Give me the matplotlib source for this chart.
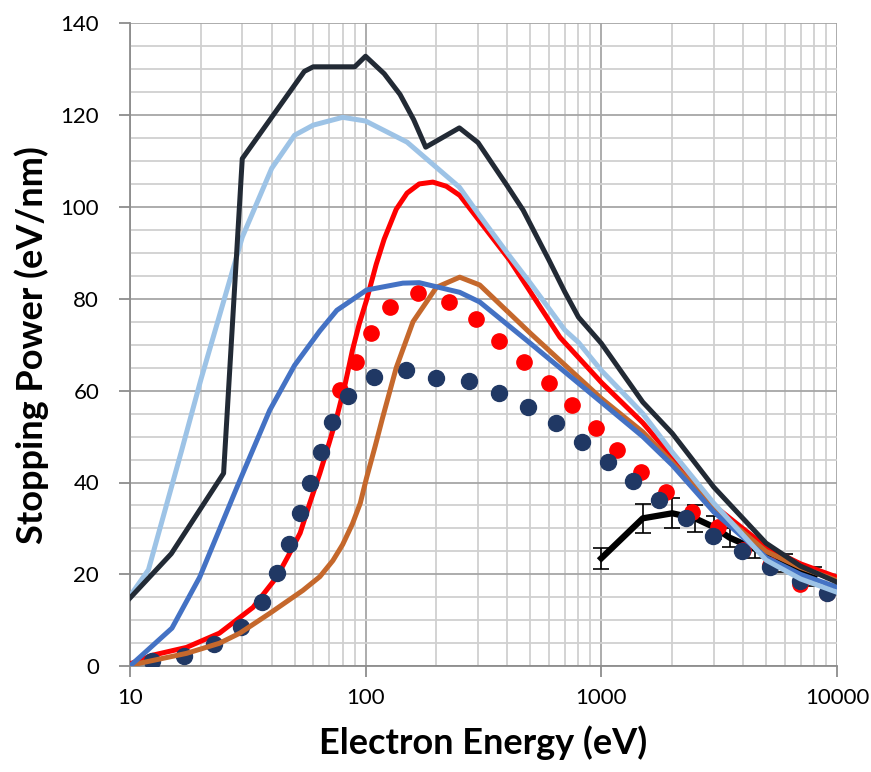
import numpy as np
import matplotlib
matplotlib.use("Agg")
import matplotlib.pyplot as plt
from matplotlib.ticker import FixedLocator, NullFormatter, FuncFormatter

# dark line
dark_x = [10, 15, 25, 30, 55, 60, 90, 100, 120, 140, 160, 180, 250, 300, 400, 466, 600, 700, 800,
          1000, 1500, 2000, 3000, 5000, 7000, 10000]
dark_y = [14.8, 24.5, 42, 110.5, 129.5, 130.5, 130.5, 132.8, 129, 124.5, 119, 113, 117.2, 114, 104.5,
          99.3, 88.4, 81.5, 76, 70.3, 57.5, 50.7, 39, 26.8, 21.8, 18.3]

# light blue line
lblue_x = [10, 12, 16.6, 20, 30, 40, 50, 60, 80, 100, 150, 250, 300, 400, 500, 700, 800, 1000,
           1500, 2000, 3000, 5000, 7000, 10000]
lblue_y = [15.2, 21, 47, 62.3, 93.4, 108.4, 115.6, 117.8, 119.5, 118.7, 114.1, 104.3, 98.6, 89.9,
           83.4, 73.2, 70.5, 64.4, 55, 46.6, 35.5, 23.1, 19, 16.1]

# red line
red_x = [10, 12.5, 17.4, 24, 33.3, 42, 47, 52.8, 58, 64, 70, 75.5, 82, 88, 94, 101, 111, 120, 135,
         150, 169, 193, 220, 251, 409, 668, 1000, 1500, 2000, 3000, 5000, 7000, 10000]
red_y = [0.5, 2.4, 4.1, 7.2, 12.8, 19.4, 24, 29, 35.5, 42, 48.5, 54.2, 61.5, 68.8, 74.5, 79.7, 87.5,
         93, 99.5, 103, 105, 105.4, 104.5, 102.5, 88.4, 71.6, 61.8, 53, 45.5, 35, 26, 22.3, 19.4]

# brown line
brown_x = [10, 17.4, 24, 29.3, 39.2, 54.2, 64, 72.7, 80, 88, 95, 101, 110, 118, 135, 159, 200, 251,
           305, 500, 1000, 1500, 2000, 3000, 5000, 7000, 10000]
brown_y = [0.2, 2.8, 5, 7.2, 11.5, 16.5, 19.5, 23, 26.5, 31, 35.5, 41, 48, 54, 65, 75, 82.5, 84.7,
           83, 72.5, 58.3, 51, 44.4, 34.5, 25, 21.5, 18.7]

# blue line
blue_x = [10, 15.1, 19.8, 28.5, 39.2, 50, 64, 75.6, 101, 144, 169, 251, 305, 500, 1000, 1500, 2000,
          3000, 5000, 7000, 10000]
blue_y = [0, 8.3, 19.4, 39, 55.7, 65.5, 73, 77.5, 81.9, 83.4, 83.5, 81.4, 79.3, 70.3, 57.5, 50,
          43.8, 33.6, 23.7, 20, 17.2]

# red dots
rdot_x = [77.7, 91, 105, 127, 166.7, 225, 293, 370, 470, 600, 750, 950, 1170, 1480, 1890, 2430,
          3130, 4000, 5200, 6960, 9100]
rdot_y = [60.1, 66.2, 72.5, 78.2, 81.2, 79.3, 75.5, 70.8, 66.2, 61.6, 56.8, 51.8, 47, 42.2, 37.9,
          33.5, 30.3, 25.3, 22, 18, 15.9]

# navy dots
ndot_x = [12.4, 17, 22.7, 29.5, 36.3, 42.1, 47.3, 52.7, 58.4, 64.5, 72, 84.6, 109, 148, 200, 275,
          367, 487, 640, 830, 1065, 1360, 1760, 2290, 2980, 3950, 5200, 6960, 9100]
ndot_y = [1.1, 2.2, 4.8, 8.5, 13.9, 20.2, 26.6, 33.3, 39.8, 46.6, 53.1, 58.8, 62.9, 64.4, 62.7, 62,
          59.4, 56.4, 52.9, 48.8, 44.4, 40.3, 36.1, 32.2, 28.3, 25, 21.6, 18.5, 15.9]

# experiment with error bars
exp_x = [1000, 1500, 2000, 2500, 3000, 3500, 4500, 6000, 8000]
exp_y = [23.5, 32.2, 33.3, 32.2, 30.3, 28.0, 25.5, 22.5, 19.5]
exp_err = [2.3, 3.2, 3.3, 3.0, 2.5, 2.0, 2.0, 2.0, 2.0]

plt.rcParams['font.family'] = ['Lato', 'DejaVu Sans']

fig = plt.figure(figsize=(8.71, 7.72), dpi=100)
ax = fig.add_axes([0.149, 0.137, 0.812, 0.833])

ax.errorbar(exp_x, exp_y, yerr=exp_err, color='black', lw=4.5, ecolor='black', elinewidth=1.2,
            capsize=6, capthick=1.2, zorder=2)
ax.plot(red_x, red_y, color='#FF0000', lw=3.6, zorder=3, solid_joinstyle='round')
ax.plot(rdot_x, rdot_y, 'o', color='#FF0000', ms=11, zorder=4)
ax.plot(ndot_x, ndot_y, 'o', color='#203864', ms=11.5, zorder=5)
ax.plot(brown_x, brown_y, color='#C5682C', lw=3.6, zorder=6, solid_joinstyle='round')
ax.plot(blue_x, blue_y, color='#4472C4', lw=3.6, zorder=6, solid_joinstyle='round')
ax.plot(lblue_x, lblue_y, color='#9DC3E6', lw=3.6, zorder=6, solid_joinstyle='round')
ax.plot(dark_x, dark_y, color='#222A35', lw=3.6, zorder=7, solid_joinstyle='round')

ax.set_xscale('log')
ax.set_xlim(10, 10000)
ax.set_ylim(0, 140)
ax.set_yticks(np.arange(0, 141, 20))
ax.yaxis.set_minor_locator(FixedLocator([v for v in range(0, 141, 5) if v % 20]))
ax.xaxis.set_major_formatter(FuncFormatter(lambda v, p: '%d' % v))
ax.xaxis.set_minor_formatter(NullFormatter())

ax.grid(which='major', color='#A6A6A6', lw=1.3)
ax.grid(which='minor', color='#D0D0D0', lw=1.3)
ax.set_axisbelow(True)
for s in ['top', 'right']:
    ax.spines[s].set_visible(False)
for s in ['left', 'bottom']:
    ax.spines[s].set_color('#8C8C8C')
    ax.spines[s].set_linewidth(1.3)
ax.tick_params(which='major', length=8, width=1.3, color='#8C8C8C', labelsize=16)
ax.tick_params(axis='y', pad=14)
ax.tick_params(axis='x', pad=8)
ax.tick_params(which='minor', length=0)

ax.set_xlabel('Electron Energy (eV)', fontsize=26, fontweight='bold', labelpad=12)
ax.set_ylabel('Stopping Power (eV/nm)', fontsize=26, fontweight='bold', labelpad=8)

fig.savefig('out.png', dpi=100)
